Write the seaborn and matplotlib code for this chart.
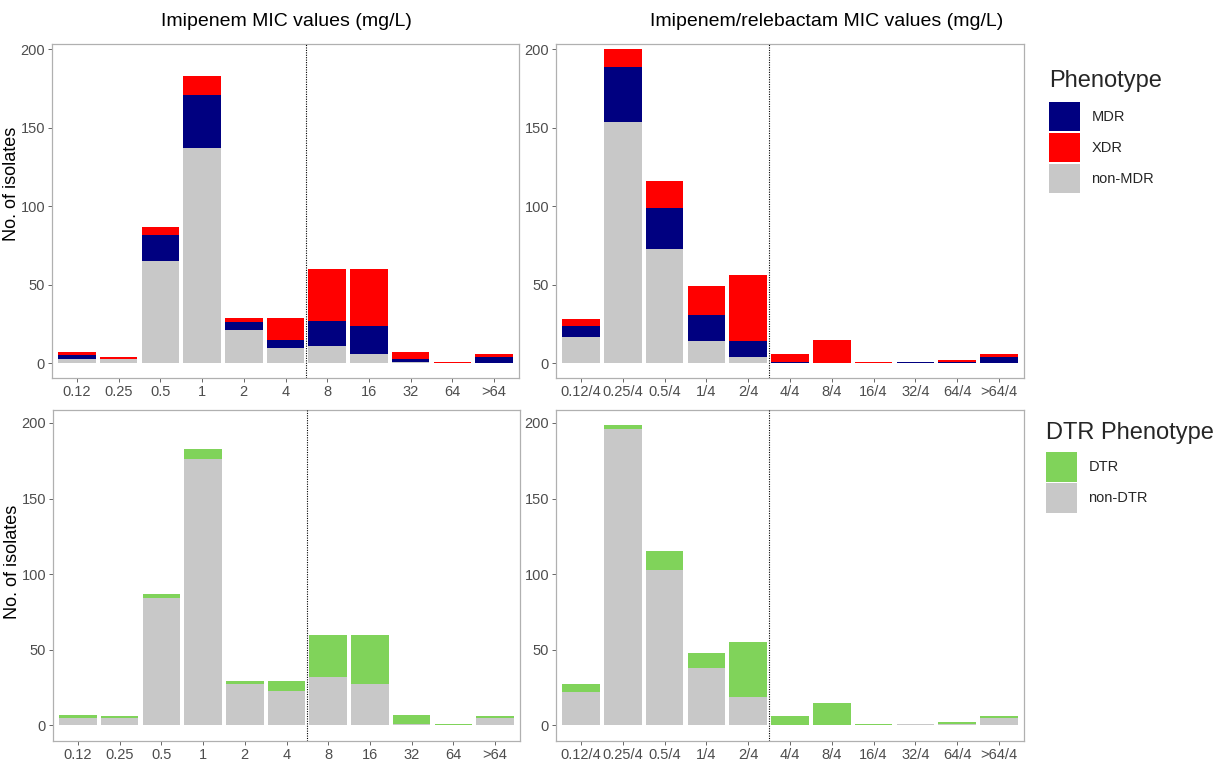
import numpy as np
import pandas as pd
import matplotlib
matplotlib.use("Agg")
import matplotlib.pyplot as plt
import matplotlib.patches as mpatches
import seaborn as sns

# ---------------- data ----------------
imi_cats = ["0.12", "0.25", "0.5", "1", "2", "4", "8", "16", "32", "64", ">64"]
imi_nonmdr = [3, 3, 65, 137, 21, 10, 11, 6, 1, 0, 0]
imi_mdr    = [2, 0, 17, 34, 5, 5, 16, 18, 2, 0, 4]
imi_xdr    = [2, 1, 5, 12, 3, 14, 33, 36, 4, 1, 2]

imi_nondtr = [5, 5, 84, 176, 27, 23, 32, 27, 1, 0, 5]
imi_dtr    = [2, 1, 3, 7, 2, 6, 28, 33, 6, 1, 1]

ir_cats = ["0.12/4", "0.25/4", "0.5/4", "1/4", "2/4", "4/4", "8/4", "16/4", "32/4", "64/4", ">64/4"]
ir_nonmdr = [17, 154, 73, 14, 4, 0, 0, 0, 0, 0, 0]
ir_mdr    = [7, 35, 26, 17, 10, 1, 0, 0, 1, 1, 4]
ir_xdr    = [4, 11, 17, 18, 42, 5, 15, 1, 0, 1, 2]

ir_nondtr = [22, 196, 103, 38, 19, 0, 0, 0, 1, 1, 5]
ir_dtr    = [5, 3, 12, 10, 36, 6, 15, 1, 0, 1, 1]

pheno_labels = ["MDR", "XDR", "non-MDR"]
dtr_labels = ["DTR", "non-DTR"]
yticks = [0, 50, 100, 150, 200]

# ---------------- style ----------------
C_MDR = "#000080"
C_XDR = "#FF0000"
C_GRAY = "#C8C8C8"
C_DTR = "#80D35A"
TICK_COL = "#4D4D4D"
SPINE_COL = "#B0B0B0"

sns.set_theme(style="white")
plt.rcParams["font.family"] = ["Liberation Sans", "DejaVu Sans"]

fig = plt.figure(figsize=(12.17, 7.65), dpi=100)
W, H = 1217, 765


def make_ax(left, right, top, bottom):
    return fig.add_axes([left / W, 1 - bottom / H, (right - left) / W, (bottom - top) / H])


ax_tl = make_ax(52, 519, 44, 378)
ax_tr = make_ax(556, 1024, 44, 378)
ax_bl = make_ax(53, 520, 410, 741)
ax_br = make_ax(556, 1024, 410, 741)


def stacked(ax, cats, layers, colors):
    # layers bottom -> top; draw cumulative totals from tallest to shortest
    cum = np.cumsum(np.array(layers), axis=0)
    for i in range(len(layers) - 1, -1, -1):
        df = pd.DataFrame({"cat": cats, "val": cum[i]})
        sns.barplot(data=df, x="cat", y="val", color=colors[i], width=0.9,
                    saturation=1, linewidth=0, ax=ax, order=cats)


stacked(ax_tl, imi_cats, [imi_nonmdr, imi_mdr, imi_xdr], [C_GRAY, C_MDR, C_XDR])
stacked(ax_tr, ir_cats, [ir_nonmdr, ir_mdr, ir_xdr], [C_GRAY, C_MDR, C_XDR])
stacked(ax_bl, imi_cats, [imi_nondtr, imi_dtr], [C_GRAY, C_DTR])
stacked(ax_br, ir_cats, [ir_nondtr, ir_dtr], [C_GRAY, C_DTR])

for ax, cut in [(ax_tl, 5.5), (ax_tr, 4.5), (ax_bl, 5.5), (ax_br, 4.5)]:
    ax.axvline(cut, color="black", linestyle=(0, (1, 1.2)), linewidth=0.8, zorder=5)
    ax.set_xlim(-0.6, 10.6)
    ax.set_yticks(yticks)
    ax.set_xlabel("")
    ax.set_ylabel("")
    ax.tick_params(axis="both", colors=TICK_COL, length=3, width=0.6,
                   direction="out", bottom=True, left=True, pad=2)
    ax.tick_params(axis="x", labelsize=10.5)
    ax.tick_params(axis="y", labelsize=10.5)
    for lab in ax.get_xticklabels() + ax.get_yticklabels():
        lab.set_color(TICK_COL)
    for s in ax.spines.values():
        s.set_color(SPINE_COL)
        s.set_linewidth(0.9)
    ax.grid(False)
    ax.set_facecolor("white")

for ax in (ax_tl, ax_tr):
    ax.set_ylim(-9.4, 203.4)
for ax in (ax_bl, ax_br):
    ax.set_ylim(-10.4, 208.6)

ax_tl.set_ylabel("No. of isolates", fontsize=13, color="black")
ax_bl.set_ylabel("No. of isolates", fontsize=13, color="black")
ax_tl.yaxis.set_label_coords(-0.068, 0.58)
ax_bl.yaxis.set_label_coords(-0.068, 0.54)

fig.text(286 / W, 1 - 22 / H, "Imipenem MIC values (mg/L)", ha="center", va="center",
         fontsize=14, color="black")
fig.text(827 / W, 1 - 22 / H, "Imipenem/relebactam MIC values (mg/L)", ha="center",
         va="center", fontsize=14, color="black")

# legends
h1 = [mpatches.Patch(facecolor=c, edgecolor="none") for c in (C_MDR, C_XDR, C_GRAY)]
leg1 = fig.legend(h1, pheno_labels, title="Phenotype", loc="upper left",
                  bbox_to_anchor=(1036 / W, 1 - 57 / H), frameon=False, fontsize=10.5,
                  title_fontsize=17, handlelength=2.1, handleheight=2.7,
                  labelspacing=0.12, handletextpad=0.8, alignment="left")
leg1._legend_box.sep = 7
h2 = [mpatches.Patch(facecolor=c, edgecolor="none") for c in (C_DTR, C_GRAY)]
leg2 = fig.legend(h2, dtr_labels, title="DTR Phenotype", loc="upper left",
                  bbox_to_anchor=(1033 / W, 1 - 409 / H), frameon=False, fontsize=10.5,
                  title_fontsize=17, handlelength=2.1, handleheight=2.7,
                  labelspacing=0.12, handletextpad=0.8, alignment="left")
leg2._legend_box.sep = 6

fig.savefig("out.png", dpi=100, facecolor="white")
